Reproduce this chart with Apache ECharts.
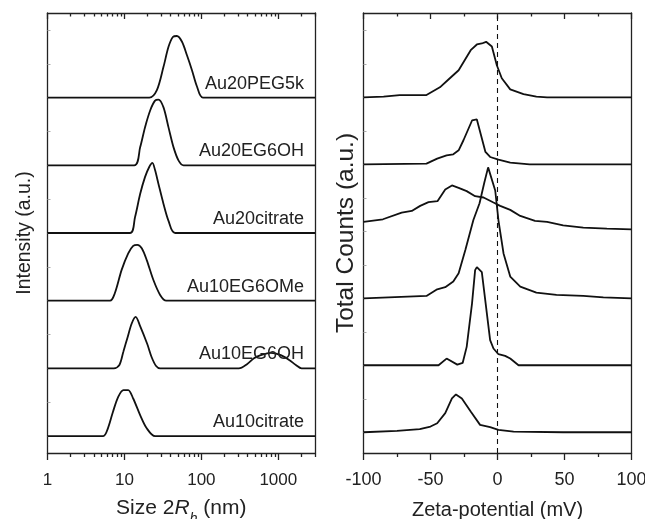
<!DOCTYPE html>
<html>
<head>
<meta charset="utf-8">
<script src="https://cdn.jsdelivr.net/npm/echarts@6/dist/echarts.min.js"></script>
<style>html,body{margin:0;padding:0;background:#fff}#c{width:645px;height:519px}</style>
</head>
<body>
<div id="c"></div>
<script>
// ---------- Left panel: DLS size distributions (x = size in nm, y = intensity a.u.) ----------
const sizeNames = ['Au20PEG5k', 'Au20EG6OH', 'Au20citrate', 'Au10EG6OMe', 'Au10EG6OH', 'Au10citrate'];
const sizeOffsets = [10, 8, 6, 4, 2, 0];
const sizeAu20PEG5k = [[1,0],[21.1,0],[26.4,0.22],[32.2,0.91],[37.4,1.50],[42.6,1.79],[48.1,1.82],[56.0,1.65],[65.0,1.25],[75.5,0.81],[87.9,0.32],[105,0],[3000,0]];
const sizeAu20EG6OH = [[1,0],[13.4,0],[16.0,0.53],[18.5,1.12],[21.6,1.62],[25.0,1.91],[27.7,1.94],[32.2,1.71],[37.4,1.12],[43.5,0.53],[50.6,0.14],[58.7,0],[3000,0]];
const sizeAu20citrate = [[1,0],[11.8,0],[13.7,0.46],[16.0,1.15],[18.5,1.65],[21.0,1.95],[23.1,2.07],[25.0,1.86],[27.7,1.45],[32.2,0.86],[37.4,0.36],[45.7,0],[3000,0]];
const sizeAu10EG6OMe = [[1,0],[6.5,0],[7.5,0.22],[9.2,0.91],[11.2,1.40],[13.0,1.62],[14.7,1.65],[16.8,1.55],[19.5,1.20],[23.8,0.61],[29.1,0.17],[34.9,0],[3000,0]];
const sizeAu10EG6OH = [[1,0],[7.3,0],[8.6,0.10],[9.7,0.50],[11.0,0.92],[12.4,1.32],[14.0,1.52],[16.0,1.25],[19.8,0.72],[22.6,0.33],[25.8,0.07],[29.1,0],[307,0],[395,0.13],[483,0.30],[591,0.39],[798,0.46],[1079,0.39],[1385,0.25],[1693,0.10],[2010,0],[3000,0]];
const sizeAu10citrate = [[1,0],[5.3,0],[6.1,0.23],[7.1,0.72],[8.3,1.16],[9.7,1.36],[11.2,1.36],[13.0,1.11],[16.0,0.62],[19.5,0.23],[25.0,0],[3000,0]];
const sizeTraces = [sizeAu20PEG5k, sizeAu20EG6OH, sizeAu20citrate, sizeAu10EG6OMe, sizeAu10EG6OH, sizeAu10citrate];
const sizeMajorTicks = [1, 10, 100, 1000];
const sizeMinorTicks = [2,3,4,5,6,7,8,9,20,30,40,50,60,70,80,90,200,300,400,500,600,700,800,900,2000,3000];

// ---------- Right panel: zeta-potential distributions (x = mV, y = counts a.u.) ----------
const zetaOffsets = [10, 8, 6, 4, 2, 0];
const zeta1 = [[-100,0],[-85,0.02],[-73,0.07],[-63,0.07],[-53,0.07],[-43,0.30],[-37,0.52],[-29,0.81],[-20,1.41],[-15.4,1.58],[-11.7,1.61],[-8.5,1.66],[-4.2,1.52],[-0.5,0.96],[3.2,0.57],[9.5,0.24],[19.4,0.10],[29,0.02],[37,0],[100,0]];
const zeta2 = [[-100,0],[-53,0.02],[-45,0.17],[-38,0.27],[-33,0.30],[-29,0.42],[-25.4,0.72],[-19,1.31],[-15.4,1.34],[-9,0.37],[-5.5,0.22],[0.7,0.14],[9.5,0.05],[24,0],[100,0]];
const zeta3 = [[-100,0.28],[-85.5,0.36],[-71.5,0.56],[-64,0.61],[-57.7,0.76],[-51.5,0.87],[-44.8,0.90],[-39,1.25],[-34,1.37],[-29,1.30],[-23,1.20],[-16.7,1.05],[-10.4,1.01],[-3,0.86],[2,0.76],[9.5,0.64],[17,0.46],[28,0.31],[37,0.28],[49,0.18],[64,0.11],[81.6,0.08],[100,0.06]];
const zeta4 = [[-100,0],[-53,0.07],[-45,0.27],[-39,0.33],[-33,0.50],[-29,0.75],[-24,1.44],[-18,2.34],[-13.4,2.84],[-10,3.43],[-7,3.91],[-1.7,3.22],[0.7,2.33],[4.5,1.34],[9.5,0.65],[17,0.35],[29,0.17],[44,0.10],[64,0.07],[79,0.03],[100,0]];
const zeta5 = [[-100,0],[-44,0],[-38,0.20],[-30,0.02],[-26,0.07],[-23,0.55],[-19,1.85],[-16.7,2.84],[-15.4,2.93],[-11.7,2.78],[-5.5,0.75],[-3,0.50],[0.7,0.33],[5.7,0.28],[9.5,0.20],[15.7,0],[100,0]];
const zeta6 = [[-100,0],[-75,0.04],[-58,0.09],[-50,0.17],[-45,0.27],[-39,0.57],[-34,1.01],[-31,1.13],[-26.6,1.01],[-20,0.62],[-13,0.22],[-5.5,0.15],[0.7,0.07],[12,0.02],[49,0],[100,0]];
const zetaTraces = [zeta1, zeta2, zeta3, zeta4, zeta5, zeta6];
const zeroLineX = 0;
const yTickValues = [0,1,2,3,4,5,6,7,8,9,10,11,12];
const leftYRange = [-0.5, 12.5];
const rightYRange = [-0.62, 12.52];

const FONT = 'Liberation Sans, Arial, sans-serif';
const INK = '#222';

function shift(arr, off) { return arr.map(p => [p[0], p[1] + off]); }

const series = [];
sizeTraces.forEach((t, i) => {
  series.push({
    type: 'line', name: sizeNames[i], xAxisIndex: 0, yAxisIndex: 0,
    data: shift(t, sizeOffsets[i]), showSymbol: false, smooth: 0.3,
    lineStyle: { color: '#111', width: 1.8 }, itemStyle: { color: '#111' },
    silent: true, animation: false, z: 3,
    endLabel: {
      show: true, formatter: '{a}', distance: 0, align: 'right', verticalAlign: 'bottom',
      offset: [-11, -5], fontFamily: FONT, fontSize: 18, color: INK
    }
  });
});
zetaTraces.forEach((t, i) => {
  series.push({
    type: 'line', xAxisIndex: 4, yAxisIndex: 2,
    data: shift(t, zetaOffsets[i]), showSymbol: false, smooth: false,
    lineStyle: { color: '#111', width: 1.8 }, itemStyle: { color: '#111' },
    silent: true, animation: false, z: 3
  });
});
// dashed zero reference line
series.push({
  type: 'line', xAxisIndex: 4, yAxisIndex: 2,
  data: [[zeroLineX, rightYRange[0]], [zeroLineX, rightYRange[1]]],
  showSymbol: false, silent: true, animation: false, z: 4,
  lineStyle: { color: '#111', width: 1.1, type: [5, 4] }, itemStyle: { color: '#111' }
});

const axisLine = { show: true, onZero: false, lineStyle: { color: INK, width: 1.3 } };
const noLine = { show: false, onZero: false };
const tickStyle = { color: INK, width: 1.3 };
const logFmt = v => String(Math.round(v));

const option = {
  animation: false,
  backgroundColor: '#fff',
  grid: [
    { left: 47.5, right: 330, top: 13, bottom: 66, outerBoundsMode: 'none', containLabel: false },
    { left: 363.5, right: 13.5, top: 13, bottom: 66, outerBoundsMode: 'none', containLabel: false }
  ],
  xAxis: [
    // 0 left bottom major
    { type: 'log', gridIndex: 0, position: 'bottom', min: 1, max: 3000, logBase: 10,
      axisLine: axisLine, splitLine: { show: false },
      axisTick: { show: true, inside: false, length: 7, lineStyle: tickStyle, customValues: sizeMajorTicks },
      axisLabel: { show: true, customValues: sizeMajorTicks, formatter: logFmt, fontFamily: FONT, fontSize: 17, color: INK, margin: 19 },
      name: '{n|Size 2}{i|R}{s|h}{n| (nm)}', nameLocation: 'middle', nameGap: 43.5,
      nameTextStyle: { fontFamily: FONT, fontSize: 21, color: INK,
        rich: {
          n: { fontFamily: FONT, fontSize: 21, color: INK, lineHeight: 24 },
          i: { fontFamily: FONT, fontSize: 21, color: INK, fontStyle: 'italic', lineHeight: 24 },
          s: { fontFamily: FONT, fontSize: 14, color: INK, fontStyle: 'italic', verticalAlign: 'bottom', lineHeight: 14, padding: [0, 0, -6, 0] }
        } } },
    // 1 left bottom minor
    { type: 'log', gridIndex: 0, position: 'bottom', min: 1, max: 3000, logBase: 10,
      axisLine: noLine, splitLine: { show: false }, axisLabel: { show: false },
      axisTick: { show: true, inside: false, length: 4, lineStyle: tickStyle, customValues: sizeMinorTicks } },
    // 2 left top major
    { type: 'log', gridIndex: 0, position: 'top', min: 1, max: 3000, logBase: 10,
      axisLine: axisLine, splitLine: { show: false }, axisLabel: { show: false },
      axisTick: { show: true, inside: true, length: 6, lineStyle: tickStyle, customValues: sizeMajorTicks } },
    // 3 left top minor
    { type: 'log', gridIndex: 0, position: 'top', min: 1, max: 3000, logBase: 10,
      axisLine: noLine, splitLine: { show: false }, axisLabel: { show: false },
      axisTick: { show: true, inside: true, length: 3.5, lineStyle: tickStyle, customValues: sizeMinorTicks } },
    // 4 right bottom
    { type: 'value', gridIndex: 1, position: 'bottom', min: -100, max: 100, interval: 50,
      axisLine: axisLine, splitLine: { show: false },
      axisTick: { show: true, inside: false, length: 7, lineStyle: tickStyle },
      minorTick: { show: true, splitNumber: 2, length: 4, lineStyle: tickStyle },
      axisLabel: { show: true, fontFamily: FONT, fontSize: 18, color: INK, margin: 18 },
      name: 'Zeta-potential (mV)', nameLocation: 'middle', nameGap: 47,
      nameTextStyle: { fontFamily: FONT, fontSize: 20, color: INK } },
    // 5 right top
    { type: 'value', gridIndex: 1, position: 'top', min: -100, max: 100, interval: 50,
      axisLine: axisLine, splitLine: { show: false }, axisLabel: { show: false },
      axisTick: { show: true, inside: true, length: 6, lineStyle: tickStyle },
      minorTick: { show: true, splitNumber: 2, length: 3.5, lineStyle: tickStyle } }
  ],
  yAxis: [
    // 0 left panel left
    { type: 'value', gridIndex: 0, position: 'left', min: leftYRange[0], max: leftYRange[1],
      axisLine: axisLine, splitLine: { show: false }, axisLabel: { show: false },
      axisTick: { show: true, inside: true, length: 3, lineStyle: { color: '#aaa', width: 1 }, customValues: yTickValues },
      name: 'Intensity (a.u.)', nameLocation: 'middle', nameGap: 13,
      nameTextStyle: { fontFamily: FONT, fontSize: 19.5, color: INK } },
    // 1 left panel right
    { type: 'value', gridIndex: 0, position: 'right', min: leftYRange[0], max: leftYRange[1],
      axisLine: axisLine, splitLine: { show: false }, axisLabel: { show: false }, axisTick: { show: false } },
    // 2 right panel left
    { type: 'value', gridIndex: 1, position: 'left', min: rightYRange[0], max: rightYRange[1],
      axisLine: axisLine, splitLine: { show: false }, axisLabel: { show: false },
      axisTick: { show: true, inside: true, length: 3, lineStyle: { color: '#aaa', width: 1 }, customValues: yTickValues },
      name: 'Total Counts (a.u.)', nameLocation: 'middle', nameGap: 5,
      nameTextStyle: { fontFamily: FONT, fontSize: 24.5, color: INK } },
    // 3 right panel right
    { type: 'value', gridIndex: 1, position: 'right', min: rightYRange[0], max: rightYRange[1],
      axisLine: axisLine, splitLine: { show: false }, axisLabel: { show: false }, axisTick: { show: false } }
  ],
  series: series
};

const chart = echarts.init(document.getElementById('c'), null, { renderer: 'canvas' });
chart.setOption(option);
</script>
</body>
</html>
